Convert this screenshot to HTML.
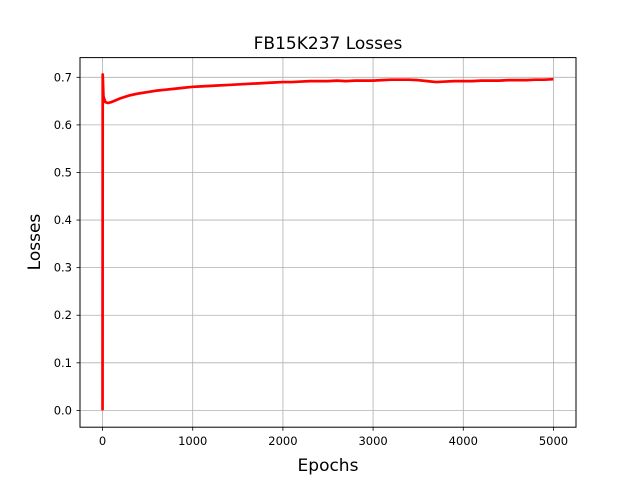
<!DOCTYPE html>
<html><head><meta charset="utf-8"><style>
body{margin:0;background:#fff;}
svg{display:block;font-family:"DejaVu Sans","Liberation Sans",sans-serif;}
</style></head><body>
<svg id="chart" width="640" height="480">
<rect width="640" height="480" fill="#fff"/>
<g id="grid"></g>
<g id="ticks"></g>
<polyline id="line" fill="none" stroke="#ff0000" stroke-width="2.7" stroke-linejoin="round"/>
<rect x="80" y="57.6" width="496" height="369.6" fill="none" stroke="#000" stroke-width="1"/>
<text x="328" y="49" font-size="17" text-anchor="middle">FB15K237 Losses</text>
<text x="328" y="471" font-size="17" text-anchor="middle">Epochs</text>
<text x="40" y="242" font-size="17" text-anchor="middle" transform="rotate(-90 40 242)">Losses</text>
</svg>
<script>
const epochs=[0,2,10,30,60,100,150,200,250,300,400,500,600,700,800,900,1000,1100,1200,1300,1400,1500,1600,1700,1800,1900,2000,2100,2200,2300,2400,2500,2600,2700,2800,2900,3000,3100,3200,3300,3400,3500,3600,3700,3800,3900,4000,4100,4200,4300,4400,4500,4600,4700,4800,4900,5000];
const losses=[0.0,0.706,0.66,0.648,0.646,0.648,0.652,0.656,0.659,0.662,0.666,0.669,0.672,0.674,0.676,0.678,0.680,0.681,0.682,0.683,0.684,0.685,0.686,0.687,0.688,0.689,0.690,0.690,0.691,0.692,0.692,0.692,0.693,0.692,0.693,0.693,0.693,0.694,0.695,0.695,0.695,0.694,0.692,0.690,0.691,0.692,0.692,0.692,0.693,0.693,0.693,0.694,0.694,0.694,0.695,0.695,0.696];
const xTicks=[0,1000,2000,3000,4000,5000];
const yTicks=[0.0,0.1,0.2,0.3,0.4,0.5,0.6,0.7];
const X=v=>80+(v+250)/5500*496;
const Y=v=>427.2-(v+0.0353)/(0.7767)*369.6;
const ns="http://www.w3.org/2000/svg";
const grid=document.getElementById('grid'),tk=document.getElementById('ticks');
function mk(tag,attrs,parent){const e=document.createElementNS(ns,tag);for(const k in attrs)e.setAttribute(k,attrs[k]);parent.appendChild(e);return e;}
xTicks.forEach(t=>{
 const x=X(t);
 const g=mk('line',{x1:x,x2:x,y1:57.6,y2:427.2,stroke:'#b0b0b0','stroke-width':0.8},grid);
 
 
 mk('line',{x1:x,x2:x,y1:427.2,y2:430.7,stroke:'#000','stroke-width':0.8},tk);
 const tx=mk('text',{x:x,y:445,'font-size':11.5,'text-anchor':'middle'},tk);
 tx.textContent=t;
 
 
});
yTicks.forEach(t=>{
 const y=Y(t);
 const g=mk('line',{x1:80,x2:576,y1:y,y2:y,stroke:'#b0b0b0','stroke-width':0.8},grid);
 
 
 mk('line',{x1:76.5,x2:80,y1:y,y2:y,stroke:'#000','stroke-width':0.8},tk);
 const tx=mk('text',{x:72,y:y+4,'font-size':11.5,'text-anchor':'end'},tk);
 tx.textContent=t.toFixed(1);
 
 
});
document.getElementById('line').setAttribute('points',epochs.map((e,i)=>X(e)+','+Y(losses[i])).join(' '));
</script>
</body></html>
